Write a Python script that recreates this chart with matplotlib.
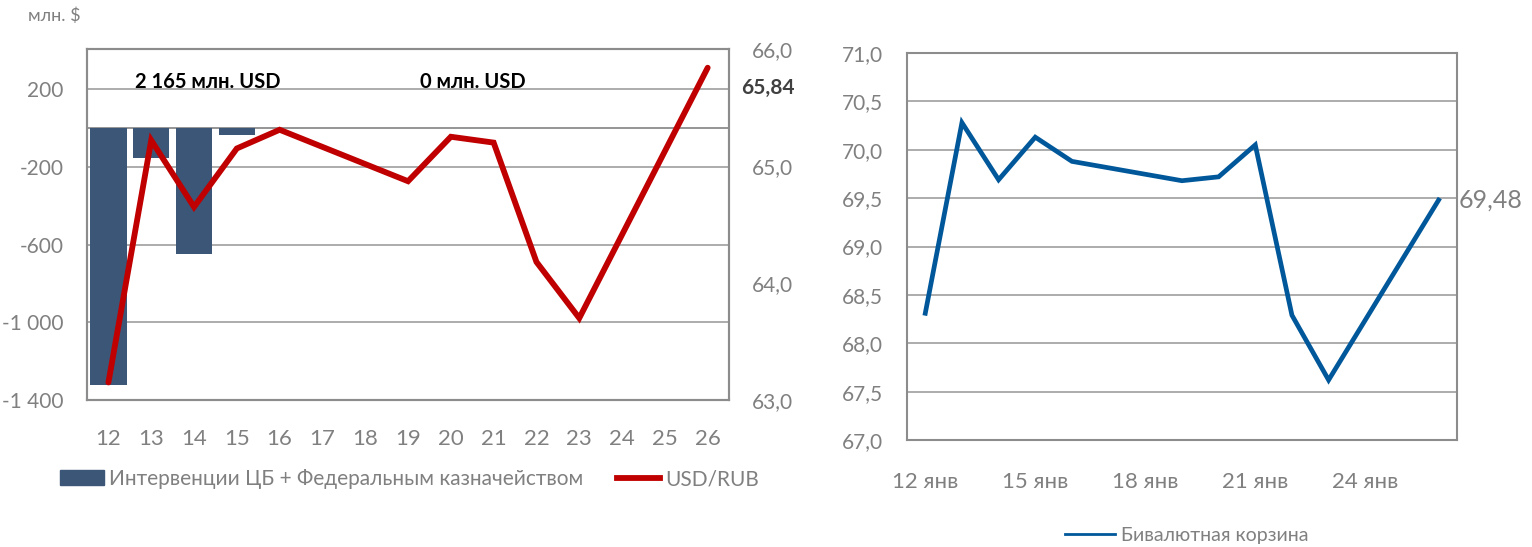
import matplotlib.pyplot as plt
import matplotlib.lines as mlines
import matplotlib.patches as mpatches

plt.rcParams['font.family'] = ['Lato', 'DejaVu Sans']

# интервенции, млн. $
bar_days = [12, 13, 14, 15]
interventions = [-1325, -155, -650, -35]

# курс USD/RUB
rub_days = [12, 13, 14, 15, 16, 19, 20, 21, 22, 23, 26]
usd_rub = [63.15, 65.22, 64.65, 65.15, 65.31, 64.87, 65.25, 65.20, 64.18, 63.70, 65.84]

# бивалютная корзина
basket_days = [12, 13, 14, 15, 16, 19, 20, 21, 22, 23, 26]
basket = [68.31, 70.28, 69.69, 70.13, 69.88, 69.68, 69.72, 70.05, 68.29, 67.62, 69.48]

day_labels = list(range(12, 27))
basket_ticks = [12, 15, 18, 21, 24]

BAR = '#3c5677'
RED = '#c00000'
BLUE = '#00589b'
GREY_TXT = '#808080'
GRID = '#a6a6a6'
SPINE = '#8c8c8c'


def fmt(v, nd):
    return f"{v:,.{nd}f}".replace(",", " ").replace(".", ",")


def style_frame(ax):
    for sp in ax.spines.values():
        sp.set_color(SPINE)
        sp.set_linewidth(1.5)
    ax.tick_params(length=0, colors=GREY_TXT)
    ax.tick_params(axis='x', labelsize=16)
    ax.tick_params(axis='y', labelsize=15)


fig = plt.figure(figsize=(15.32, 5.47), dpi=100)

# левый график: интервенции и курс
ax = fig.add_axes([0.0568, 0.2687, 0.4191, 0.6417])
ax.set_xlim(11.5, 26.5)
ax.set_ylim(-1400, 406)
yt = [-1400, -1000, -600, -200, 200]
ax.set_yticks(yt)
ax.set_yticklabels([fmt(v, 0) for v in yt])
ax.set_xticks(day_labels)
ax.set_xticklabels([str(d) for d in day_labels])
ax.grid(axis='y', color=GRID, linewidth=1.3)
ax.axhline(0, color=SPINE, linewidth=1.3)
ax.set_axisbelow(True)
style_frame(ax)
ax.tick_params(axis='x', pad=21)
ax.tick_params(axis='y', pad=17)
ax.bar(bar_days, interventions, width=0.85, color=BAR, zorder=2)

ax2 = ax.twinx()
ax2.set_ylim(63.0, 66.0)
rt = [63.0, 64.0, 65.0, 66.0]
ax2.set_yticks(rt)
ax2.set_yticklabels([fmt(v, 1) for v in rt])
style_frame(ax2)
ax2.tick_params(axis='y', pad=16.5)
ax2.plot(rub_days, usd_rub, color=RED, linewidth=4.2, solid_capstyle='round',
         solid_joinstyle='miter', zorder=3)
ax2.annotate(fmt(usd_rub[-1], 2), xy=(1.0, 65.84), xycoords=('axes fraction', 'data'),
             xytext=(9, -14.5), textcoords='offset points', ha='left', va='center',
             fontsize=15, fontweight='bold', color='#404040')

ax.text(0.074, 0.905, "2 165 млн. USD", transform=ax.transAxes, fontsize=14.5,
        fontweight='bold', color='black', va='center')
ax.text(0.518, 0.905, "0 млн. USD", transform=ax.transAxes, fontsize=14.5,
        fontweight='bold', color='black', va='center')
fig.text(28 / 1532, 1 - 16 / 547, "млн. $", fontsize=13, color=GREY_TXT, va='center')

h_bar = mpatches.Patch(color=BAR)
h_red = mlines.Line2D([], [], color=RED, linewidth=4.2)
fig.legend([h_bar, h_red], ["Интервенции ЦБ + Федеральным казначейством", "USD/RUB"],
           loc='center left', bbox_to_anchor=(0.027, 1 - 479 / 547), ncol=2, frameon=False,
           fontsize=15, labelcolor=GREY_TXT, handlelength=2.1, handletextpad=0.25,
           columnspacing=1.6)

# правый график: бивалютная корзина
bx = fig.add_axes([0.592, 0.1956, 0.359, 0.7075])
bx.set_xlim(11.5, 26.5)
bx.set_ylim(67.0, 71.0)
bt = [67.0 + 0.5 * i for i in range(9)]
bx.set_yticks(bt)
bx.set_yticklabels([fmt(v, 1) for v in bt])
bx.set_xticks(basket_ticks)
bx.set_xticklabels([f"{d} янв" for d in basket_ticks])
bx.grid(axis='y', color=GRID, linewidth=1.3)
bx.set_axisbelow(True)
style_frame(bx)
bx.tick_params(axis='x', pad=23)
bx.tick_params(axis='y', pad=17)
bx.plot(basket_days, basket, color=BLUE, linewidth=3.4, solid_joinstyle='miter')
bx.annotate(fmt(basket[-1], 2), xy=(1.0, basket[-1]), xycoords=('axes fraction', 'data'),
            xytext=(1, 0), textcoords='offset points', ha='left', va='center',
            fontsize=18, color=GREY_TXT)

h_blue = mlines.Line2D([], [], color=BLUE, linewidth=2)
fig.legend([h_blue], ["Бивалютная корзина"], loc='center left',
           bbox_to_anchor=(1047 / 1532, 1 - 535 / 547), frameon=False, fontsize=14,
           labelcolor=GREY_TXT, handlelength=2.6, handletextpad=0.3)

fig.savefig("out.png", dpi=100)
